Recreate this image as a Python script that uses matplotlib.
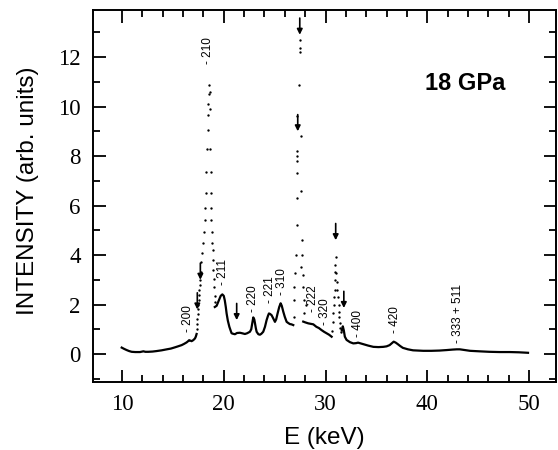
import matplotlib
matplotlib.use("Agg")
import matplotlib.pyplot as plt
import numpy as np

# solid parts of the trace (E in keV, intensity arb. units)
E_a = [9.97, 10.2, 10.46, 10.7, 10.95, 11.3, 11.77, 12.1, 12.3, 12.59, 13.0, 13.4, 13.9, 14.4,
       14.8, 15.2, 15.5, 15.86, 16.1, 16.35, 16.5, 16.6, 16.72, 16.84, 17.0, 17.17, 17.25, 17.33]
I_a = [0.26, 0.21, 0.16, 0.12, 0.09, 0.08, 0.08, 0.11, 0.09, 0.09, 0.10, 0.12, 0.15, 0.19,
       0.22, 0.27, 0.31, 0.36, 0.41, 0.47, 0.52, 0.56, 0.54, 0.52, 0.56, 0.63, 0.70, 0.81]

E_b = [19.12, 19.3, 19.5, 19.7, 19.86, 20.0, 20.1, 20.2, 20.28, 20.4, 20.55, 20.7, 20.77, 20.9,
       21.1, 21.3, 21.59, 21.8, 22.08, 22.3, 22.57, 22.7, 22.8, 22.9, 23.0, 23.07, 23.15, 23.23,
       23.4, 23.56, 23.7, 23.88, 24.05, 24.21, 24.35, 24.44, 24.55, 24.7, 24.85, 25.03, 25.15,
       25.29, 25.45, 25.59, 25.7, 25.85, 26.0, 26.18, 26.35, 26.5, 26.65, 26.83]
I_b = [1.9, 1.95, 2.15, 2.35, 2.41, 2.35, 2.17, 1.9, 1.64, 1.35, 1.1, 0.92, 0.84, 0.82,
       0.8, 0.85, 0.86, 0.84, 0.81, 0.84, 0.9, 1.0, 1.24, 1.48, 1.4, 1.24, 1.05, 0.9,
       0.8, 0.78, 0.82, 0.9, 1.1, 1.37, 1.55, 1.64, 1.62, 1.57, 1.45, 1.3, 1.4,
       1.64, 1.9, 2.05, 1.95, 1.71, 1.5, 1.3, 1.25, 1.21, 1.2, 1.17]

E_c = [27.81, 28.0, 28.3, 28.55, 28.8, 29.1, 29.35, 29.6, 29.85, 30.1, 30.35, 30.6]
I_c = [1.31, 1.28, 1.24, 1.22, 1.2, 1.1, 1.05, 0.97, 0.9, 0.84, 0.78, 0.7]

E_d = [31.6, 31.7, 31.8, 31.9, 32.07, 32.4, 32.73, 33.0, 33.2, 33.45, 33.7, 34.2, 34.7, 35.2,
       35.67, 36.0, 36.3, 36.5, 36.7, 36.9, 37.1, 37.35, 37.6, 38.1, 38.6, 39.1, 39.6, 40.4,
       41.2, 41.9, 42.5, 42.9, 43.2, 43.7, 44.2, 45.1, 46.1, 47.1, 48.1, 49.0, 49.9]
I_d = [0.95, 1.12, 0.95, 0.7, 0.57, 0.48, 0.43, 0.44, 0.46, 0.43, 0.4, 0.34, 0.29, 0.28,
       0.29, 0.31, 0.36, 0.43, 0.5, 0.46, 0.4, 0.32, 0.25, 0.19, 0.15, 0.14, 0.13, 0.13,
       0.14, 0.16, 0.18, 0.19, 0.19, 0.16, 0.13, 0.11, 0.09, 0.08, 0.08, 0.07, 0.05]

# sparse points on the steep flanks of the strong lines
E_dots = [17.36, 17.38, 17.4, 17.42, 17.45, 17.48, 17.52, 17.55, 17.58, 17.62, 17.66, 17.72, 17.8,
          17.88, 17.96, 18.05, 18.13, 18.2, 18.26, 18.3, 18.38, 18.42, 18.46, 18.5, 18.52, 18.55,
          18.6, 18.63, 18.66, 18.7, 18.72, 18.75, 18.78, 18.82, 18.86, 18.9, 18.95, 18.99, 19.03,
          19.07, 19.1, 19.12,
          26.86, 26.9, 26.95, 27.0, 27.1, 27.16, 27.2, 27.22, 27.23, 27.23, 27.23, 27.24, 27.38,
          27.45, 27.45, 27.46, 27.58, 27.62, 27.7, 27.72, 27.55, 27.8, 27.8, 27.9, 28.05, 27.85,
          30.68, 30.72, 30.76, 30.82, 30.85, 30.9, 30.92, 30.96, 30.98, 31.0, 31.06, 31.1, 31.15,
          31.22, 31.28, 31.32, 31.35, 31.4, 31.45, 31.5]
I_dots = [1.0, 1.2, 1.4, 1.6, 1.8, 2.0, 2.2, 2.4, 2.6, 2.8, 3.0, 3.3, 3.7,
          4.1, 4.5, 4.95, 5.4, 5.9, 6.5, 7.35, 8.3, 9.05, 9.66, 10.1, 10.5, 10.87,
          10.6, 9.9, 8.3, 7.35, 6.5, 5.9, 5.4, 4.93, 4.5, 4.2, 3.8, 3.4, 3.05,
          2.7, 2.35, 2.1,
          1.5, 2.2, 2.7, 3.27, 4.0, 5.2, 6.3, 7.3, 7.8, 8.0, 8.2, 9.6, 10.87,
          12.2, 12.35, 12.7, 8.8, 6.6, 4.6, 4.0, 3.5, 3.2, 2.72, 2.2, 1.98, 1.64,
          0.95, 1.3, 1.64, 2.0, 2.3, 2.6, 2.99, 3.3, 3.6, 3.93, 3.27, 2.9, 2.6,
          2.3, 2.0, 1.7, 1.5, 1.25, 1.05, 0.9]

# reflection labels
hkl = ["200", "210", "211", "220", "221", "310", "222", "320", "400", "420", "333 + 511"]
hkl_E = [16.5, 18.5, 19.9, 22.9, 24.54, 25.7, 28.8, 29.95, 33.2, 36.8, 43.0]
hkl_I = [0.9, 11.7, 2.8, 1.7, 2.05, 2.4, 1.7, 1.17, 0.7, 0.85, 0.45]

# arrow tips
arrow_E = [17.7, 17.4, 21.27, 27.47, 27.27, 31.0, 31.8]
arrow_I = [3.0, 1.8, 1.37, 12.9, 9.0, 4.6, 1.86]

fig = plt.figure(figsize=(5.58, 4.5), dpi=100)
ax = fig.add_axes([93/558, 68/450, 463/558, 372/450])

for E, I in [(E_a, I_a), (E_b, I_b), (E_c, I_c), (E_d, I_d)]:
    ax.plot(E, I, color='k', lw=1.6, solid_joinstyle='round')
ax.plot(E_dots, I_dots, 'o', color='k', ms=1.7, mew=0)

for t, e, i in zip(hkl, hkl_E, hkl_I):
    ax.text(e, i, "- " + t, rotation=90, ha='center', va='bottom',
            fontsize=8.5, family='Liberation Sans')

for e, i in zip(arrow_E, arrow_I):
    ax.annotate("", xy=(e, i), xytext=(0, 12), textcoords='offset points',
                arrowprops=dict(arrowstyle='-|>', color='k', lw=1.2,
                                mutation_scale=8, shrinkA=0, shrinkB=0))

ax.text(43.7, 10.95, "18 GPa", ha='center', va='center', fontsize=17,
        fontweight='bold', family='Liberation Sans')

ax.set_xlim(7.15, 52.65)
ax.set_ylim(-1.13, 13.9)
ax.set_xticks([10, 20, 30, 40, 50])
ax.set_xticks(np.arange(12, 50, 2), minor=True)
ax.set_yticks(np.arange(0, 13, 2))
ax.set_yticks(np.arange(-1, 14, 1), minor=True)

ax.tick_params(which='both', direction='in', top=True, right=True, width=1.3)
ax.tick_params(which='major', length=9, labelsize=16.5, pad=9)
ax.tick_params(which='minor', length=4.7)
for lab in ax.get_xticklabels() + ax.get_yticklabels():
    lab.set_family('Liberation Serif')
for s in ax.spines.values():
    s.set_linewidth(1.4)

ax.set_xlabel("E (keV)", fontsize=17.5, family='Liberation Sans')
ax.set_ylabel("INTENSITY (arb. units)", fontsize=17.5, family='Liberation Sans')
ax.xaxis.set_label_coords(0.5, -0.12)
ax.yaxis.set_label_coords(-0.117, 0.513)

fig.savefig("out.png", dpi=100)
